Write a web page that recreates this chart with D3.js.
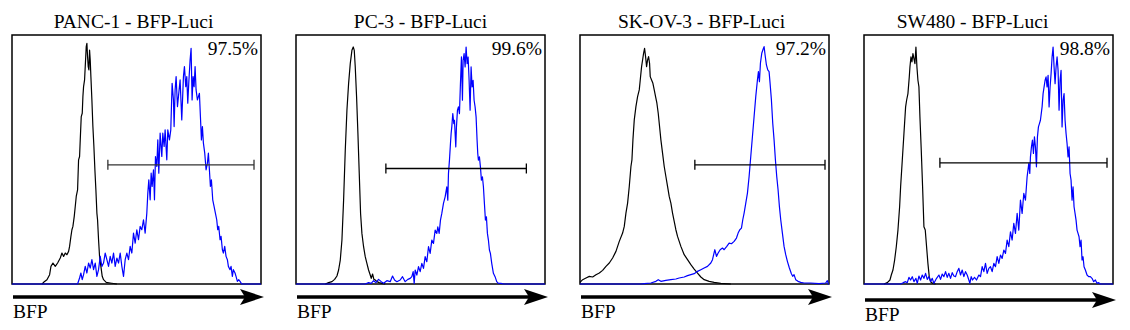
<!DOCTYPE html>
<html>
<head>
<meta charset="utf-8">
<script src="https://cdn.jsdelivr.net/npm/d3@7"></script>
<style>
  body { margin: 0; background: #fff; }
  text { font-family: "Liberation Serif", "Times New Roman", serif; fill: #000; }
</style>
</head>
<body>
<svg id="chart" width="1130" height="330"></svg>
<script>
// panel titles, gated percentages and the gate (channel from, channel to, count level)
var titles = ["PANC-1 - BFP-Luci", "PC-3 - BFP-Luci", "SK-OV-3 - BFP-Luci", "SW480 - BFP-Luci"];
var percents = ["97.5%", "99.6%", "97.2%", "98.8%"];
var gates = [[288, 727, 358], [270, 692, 347], [345, 736, 358], [228, 730, 364]];
var axisLabel = "BFP";

// histograms: [channel, count]
var controlPANC1 = [[90,0],[95,5],[105,13],[113,28],[117,53],[123,63],[130,53],[137,63],[145,78],[150,93],[155,83],[160,93],[165,88],[170,98],[173,113],[177,143],[180,163],[183,173],[187,203],[190,233],[193,263],[197,283],[200,373],[203,383],[205,433],[208,503],[211,513],[213,563],[215,593],[218,613],[220,653],[223,713],[225,723],[227,683],[229,653],[231,643],[233,703],[235,673],[237,623],[240,553],[243,473],[246,413],[249,343],[252,283],[255,213],[257,193],[260,133],[263,83],[267,53],[271,23],[275,13],[283,5],[295,3],[315,0]];
var bfpPANC1 = [[0,0],[197,0],[203,18],[207,33],[211,13],[215,28],[220,53],[225,33],[230,63],[235,48],[240,73],[245,43],[250,63],[255,23],[260,43],[265,83],[270,53],[275,63],[280,93],[285,73],[290,53],[295,83],[300,63],[305,93],[310,53],[315,78],[320,63],[325,93],[330,53],[335,23],[340,73],[345,93],[350,73],[355,113],[360,93],[365,153],[370,123],[375,163],[380,133],[385,173],[390,163],[395,193],[400,153],[405,213],[408,273],[411,313],[415,253],[418,333],[421,293],[425,343],[428,253],[431,383],[435,353],[438,433],[441,333],[445,453],[450,383],[453,453],[457,413],[460,463],[465,373],[468,463],[473,433],[477,463],[481,603],[485,553],[487,473],[490,583],[493,623],[497,533],[500,563],[505,613],[510,493],[515,623],[518,653],[522,593],[525,623],[528,543],[531,603],[535,673],[538,708],[541,553],[544,623],[547,593],[550,653],[553,583],[557,553],[560,563],[563,573],[566,503],[569,433],[572,473],[575,423],[579,393],[583,343],[587,363],[590,393],[593,343],[596,293],[599,313],[603,253],[607,233],[611,213],[615,193],[618,163],[621,173],[625,133],[628,143],[632,103],[635,93],[639,113],[643,83],[647,73],[650,53],[655,43],[658,53],[662,23],[665,43],[670,33],[673,23],[677,8],[681,13],[685,8],[690,0],[748,0]];

var controlPC3 = [[88,0],[98,4],[108,7],[116,14],[123,24],[128,42],[133,72],[138,132],[143,252],[148,402],[153,522],[158,602],[163,662],[168,702],[172,712],[175,702],[178,652],[182,562],[186,452],[190,332],[194,212],[198,152],[203,112],[208,82],[213,62],[218,42],[223,27],[226,17],[230,30],[234,14],[238,12],[243,7],[250,4],[258,2],[268,0]];
var bfpPC3 = [[0,0],[208,0],[218,4],[226,2],[233,10],[240,4],[248,14],[256,7],[263,2],[273,10],[283,7],[290,24],[296,12],[303,7],[313,12],[320,22],[328,7],[336,14],[343,17],[348,22],[352,37],[355,2],[358,42],[363,27],[368,52],[373,37],[378,62],[383,47],[388,82],[393,67],[398,112],[403,92],[408,132],[413,122],[418,162],[423,152],[426,172],[430,152],[434,192],[438,212],[443,242],[448,262],[453,292],[456,252],[458,332],[461,372],[464,422],[466,452],[468,472],[471,512],[474,482],[476,492],[480,412],[482,472],[485,522],[488,532],[491,512],[494,602],[497,682],[500,552],[502,672],[505,692],[508,652],[511,712],[514,662],[517,682],[520,612],[523,522],[526,652],[529,592],[532,612],[535,552],[538,532],[541,502],[544,432],[546,392],[548,372],[551,382],[554,352],[557,312],[560,322],[563,292],[566,242],[569,192],[572,202],[575,152],[578,132],[581,102],[584,92],[588,62],[593,32],[598,22],[603,7],[608,2],[616,2],[623,0],[748,0]];

var controlSKOV3 = [[0,5],[8,13],[18,18],[28,23],[38,21],[48,28],[58,33],[68,41],[78,53],[88,63],[98,78],[108,98],[118,128],[128,153],[133,173],[138,213],[143,243],[148,293],[153,353],[156,373],[159,433],[163,493],[168,533],[173,563],[178,583],[181,613],[185,653],[188,673],[191,693],[194,708],[197,683],[200,653],[203,673],[206,683],[209,663],[211,623],[215,613],[219,603],[223,583],[227,563],[231,543],[235,513],[239,473],[243,433],[248,393],[253,353],[258,323],[263,293],[268,263],[273,243],[278,213],[283,188],[288,163],[293,143],[303,113],[313,88],[323,73],[333,58],[343,45],[353,33],[363,21],[373,13],[388,8],[403,5],[423,2],[453,0]];
var bfpSKOV3 = [[0,0],[183,0],[193,1],[213,3],[228,8],[235,13],[243,8],[258,11],[273,13],[288,15],[298,18],[313,21],[323,25],[333,28],[343,31],[353,38],[363,43],[373,48],[383,53],[393,63],[398,73],[405,103],[410,83],[415,93],[421,103],[428,108],[433,103],[441,113],[448,123],[455,121],[463,128],[470,138],[475,153],[480,163],[485,168],[489,193],[493,213],[498,243],[503,273],[508,323],[513,383],[518,443],[523,503],[528,563],[533,613],[536,638],[539,608],[542,663],[546,693],[550,705],[553,713],[556,688],[560,658],[564,643],[568,638],[571,603],[575,553],[579,483],[583,433],[587,373],[591,323],[595,283],[599,233],[603,193],[608,153],[613,113],[618,88],[623,68],[629,48],[635,31],[639,23],[643,28],[648,13],[655,8],[663,5],[673,3],[693,3],[718,1],[738,3],[743,10],[746,0],[748,0]];

var controlSW480 = [[60,0],[70,4],[78,12],[82,27],[87,42],[92,72],[97,112],[102,162],[107,232],[110,292],[115,372],[120,452],[125,532],[128,552],[132,572],[136,622],[138,652],[141,682],[144,667],[147,692],[150,677],[153,662],[156,712],[159,652],[162,612],[165,592],[168,502],[172,402],[176,292],[180,172],[184,162],[188,112],[192,62],[196,22],[200,7],[206,2],[215,0]];
var bfpSW480 = [[0,0],[110,0],[118,4],[125,7],[130,4],[135,20],[140,12],[145,22],[150,7],[156,17],[160,2],[165,24],[170,12],[175,27],[180,17],[185,32],[190,14],[195,22],[200,7],[205,17],[210,2],[218,17],[225,27],[230,14],[235,30],[240,22],[245,37],[250,20],[255,32],[260,17],[265,34],[270,24],[275,22],[280,37],[285,47],[290,27],[295,42],[300,22],[305,37],[310,27],[315,12],[318,2],[322,22],[326,12],[332,20],[338,12],[345,27],[350,22],[355,52],[360,37],[365,62],[370,32],[375,47],[380,52],[385,37],[390,62],[395,52],[400,82],[405,62],[410,87],[415,77],[420,102],[425,92],[430,132],[435,112],[440,157],[445,132],[450,182],[455,152],[460,212],[465,162],[470,252],[475,212],[480,272],[485,252],[490,322],[495,362],[498,332],[500,382],[503,412],[506,432],[509,392],[512,442],[515,412],[518,352],[521,442],[524,472],[527,482],[530,492],[535,532],[538,572],[541,592],[544,612],[547,622],[550,592],[553,627],[556,532],[559,592],[562,632],[565,682],[568,712],[571,652],[574,602],[577,652],[580,682],[583,642],[586,522],[589,612],[592,642],[595,472],[598,552],[601,572],[604,492],[607,452],[610,422],[613,382],[616,412],[619,332],[622,312],[625,252],[628,292],[631,232],[634,212],[637,192],[640,162],[643,152],[646,142],[649,112],[652,132],[655,72],[658,82],[661,52],[665,42],[670,27],[675,22],[680,22],[685,17],[690,7],[695,12],[700,2],[705,4],[710,0],[748,0]];

var controls = [controlPANC1, controlPC3, controlSKOV3, controlSW480];
var positives = [bfpPANC1, bfpPC3, bfpSKOV3, bfpSW480];

// layout, by hand
var boxW = 249, boxH = 249, boxTop = 35, firstLeft = 12, step = 284;
var titleShift = [-3, 0, -3, -16];
var arrowGap = [13, 13, 13, 16];

var svg = d3.select("#chart");

titles.forEach(function(title, i) {
  var left = firstLeft + i * step;
  var x = d3.scaleLinear().domain([0, 748]).range([left, left + boxW]);
  var y = d3.scaleLinear().domain([0, 748]).range([boxTop + boxH, boxTop]);
  var g = svg.append("g");

  g.append("text")
    .attr("x", left + boxW / 2 + titleShift[i])
    .attr("y", 28)
    .attr("text-anchor", "middle")
    .style("font-size", "19.5px")
    .text(title);

  g.append("rect")
    .attr("x", left).attr("y", boxTop)
    .attr("width", boxW).attr("height", boxH)
    .attr("fill", "none").attr("stroke", "#000").attr("stroke-width", 1.5);

  var line = d3.line().x(function(d) { return x(d[0]); }).y(function(d) { return y(d[1]); });

  g.append("path").datum(controls[i])
    .attr("d", line).attr("fill", "none")
    .attr("stroke", "#000").attr("stroke-width", 1.2).attr("stroke-linejoin", "round");
  g.append("path").datum(positives[i])
    .attr("d", line).attr("fill", "none")
    .attr("stroke", "#0000ff").attr("stroke-width", 1.2).attr("stroke-linejoin", "round");

  // gate marker
  var gt = gates[i], gy = y(gt[2]);
  var gcol = i == 0 ? "#333" : "#000";
  g.append("line").attr("x1", x(gt[0])).attr("x2", x(gt[1])).attr("y1", gy).attr("y2", gy)
    .attr("stroke", gcol).attr("stroke-width", 1.3);
  [gt[0], gt[1]].forEach(function(v) {
    g.append("line").attr("x1", x(v)).attr("x2", x(v)).attr("y1", gy - 5).attr("y2", gy + 5)
      .attr("stroke", gcol).attr("stroke-width", 1.3);
  });

  g.append("text")
    .attr("x", left + boxW - 3)
    .attr("y", boxTop + 20)
    .attr("text-anchor", "end")
    .style("font-size", "19.5px")
    .text(percents[i]);

  // axis arrow
  var ay = boxTop + boxH + arrowGap[i], tip = left + boxW + 3;
  g.append("line").attr("x1", left + 1).attr("x2", tip - 18).attr("y1", ay).attr("y2", ay)
    .attr("stroke", "#000").attr("stroke-width", 3.5);
  g.append("path")
    .attr("d", "M" + tip + "," + ay + "L" + (tip - 24) + "," + (ay - 8) + "L" + (tip - 19) + "," + ay +
               "L" + (tip - 24) + "," + (ay + 8) + "Z")
    .attr("fill", "#000");

  g.append("text")
    .attr("x", left + 1)
    .attr("y", ay + 21)
    .style("font-size", "19.5px")
    .text(axisLabel);
});
</script>
</body>
</html>
